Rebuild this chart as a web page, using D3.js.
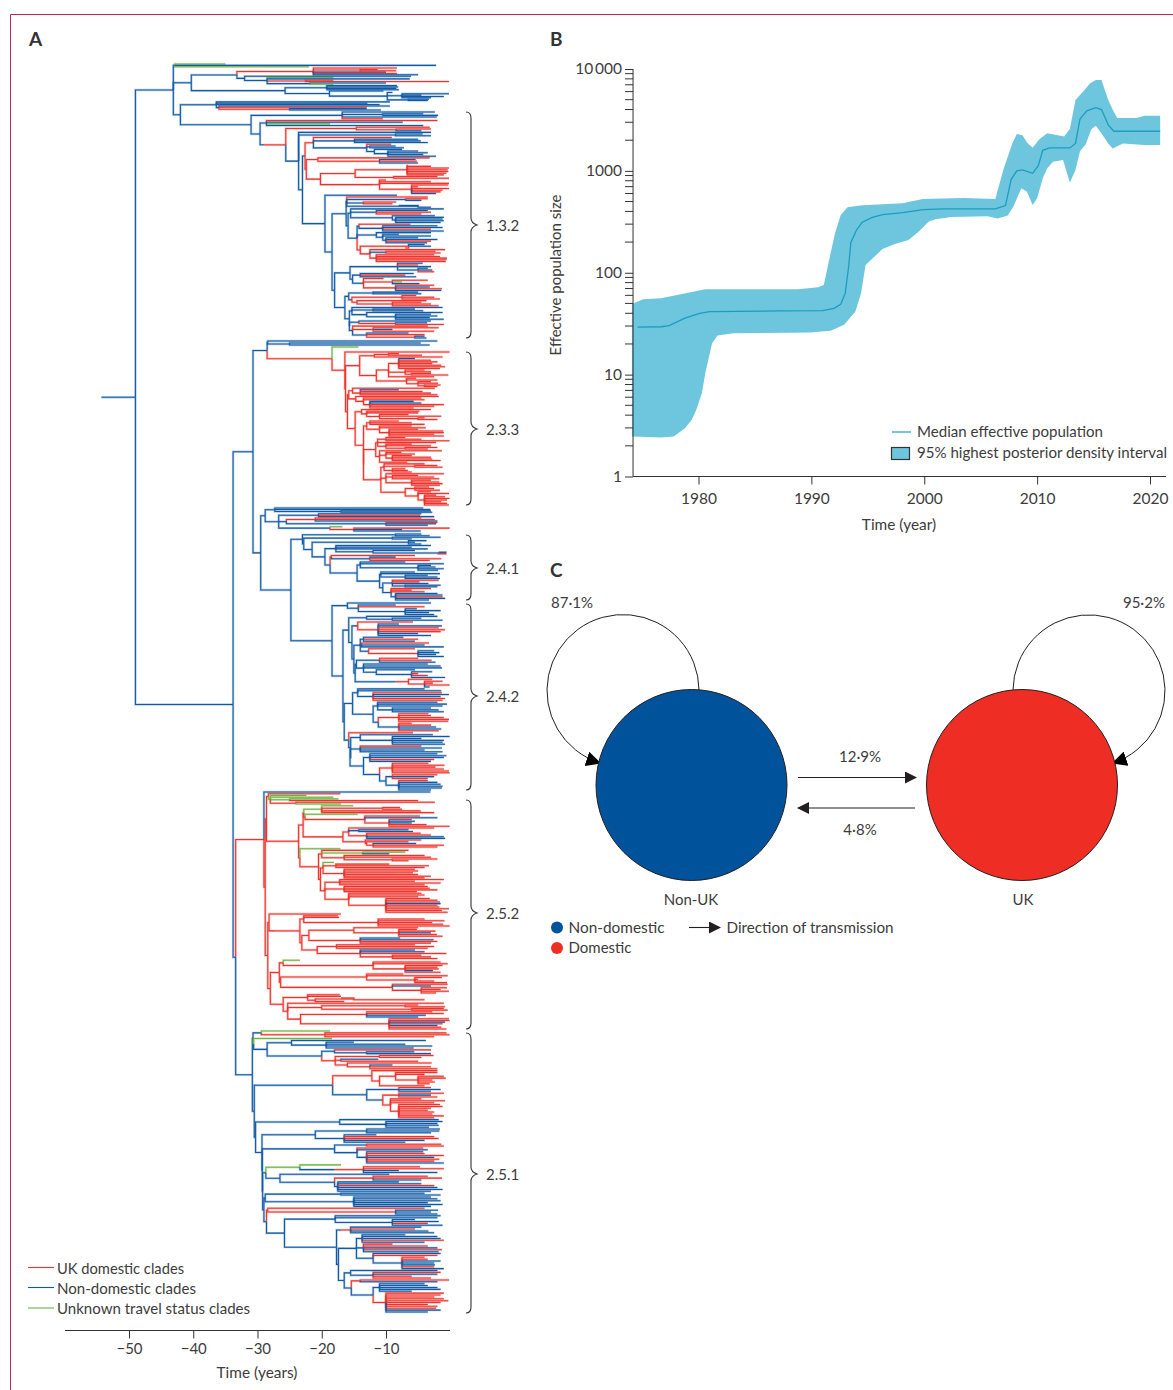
<!DOCTYPE html>
<html>
<head>
<meta charset="utf-8">
<script src="https://cdn.jsdelivr.net/npm/d3@7"></script>
<style>
  html, body { margin: 0; padding: 0; background: #fff; }
  svg { display: block; }
  text { font-family: Lato, "Open Sans", sans-serif; fill: #3d3c3c; }
</style>
</head>
<body>
<div id="chart"></div>
<script>
// Tree data. Format: colour + years before present,
// "[" opens a node, a bare number is a tip, colour is inherited if left out.
// r = UK domestic, b = non-domestic, g = unknown. "|" marks a section break.
const cladeTop = `
b42.9[g35 b2.2 g22]
b40.3[
  b33.2[
    r21.3[r8.3 r14[r11.3 r8.4] b10 r8.3 b5]
    b32[b6.1 b28.5[g18.2 b6.3 r22.5[r18.2 r0.2] b21.8[b10 g18.2]]]
  ]
  b25.7[
    b19.2[b8.3 b8.1 b8.4 b8]
    b18.8[b10.4 b9.8[b9 b7.5[b0.2 b4.5 b1 b3] b6.5[b3.3 b3.5]]]
  ]
]`;

const clade132 = `
b31[
 b16.8[b2.4 b10.5[b4.2 b1.9] b2.1 r10.5]
 b29.6[
  b28.6[r2 b7.4 g18.7 b4.2]
  b29[
   r25.6[
    r14.6[r3.2 r8.4[r3 b4.5]]
    b23.6[
     b3 b8.5[b4.3 b3]
     b23[
      b22.6[
       r21.3[
        r9.1
        b14.9[b5 b4.6 b3.5]
        b13[
         r9.2 b12.5[b8.5 b7.2]
         b11.8[b7.5 b9.7[b5 b3.5 b4.2 b2.2]]
        ]
       ]
       r22.4[
        r20.6[r3.2 r11[b5.4 r5.2 b5]]
        r20.2[
         r14.8[r6.7[r6.7 r3 r0.2 r0.4 r0.3 r0.6 r1] r8.8[r2 r0.2]]
         r12[r11[r10 r3 r0.2 r6[r0.3 r5 r0.2 r1.2 r1.5 b2.2]]]
        ]
       ]
      ]
      b19.5[
       b8.3
       b18.4[
        b16.2[
         b16.1[r3.5 b6.9[r3.5 b4.5] b13.5[r8.4 r9] b5[b8 b3]]
         b15.9[
          b15.5[
           b1 b11.5[b3.5 r3 r4.5] b9[b2.4 b8.5[b1 b1.2 b1 b1.5]]
          ]
          b14.5[
           b14.2[r6.2 b10.5[b2 b1.2 r3 b1]]
           b11.5[b3 b10.5[b8 b3 b10[b5 b2 r3 b3.6]]]
           r14[r6.5[b4 b3 r7] r12.5[r0.8 b10[r2.3 r1.5] r11.5[r2.5 r1.6 r0.5 r0.6 r0.7]]]
          ]
         ]
        ]
        b18[
         b15.6[
          b8.2[b4.3 r5 b3 b5[b3.5 b2.8 r2.5]]
          b15.2[
           b14[b5.7 r7 b5.3]
           b13.5[r10.4 r9[r3.5 g7.5 b4.8] r8.5[r2.5 b3.2 r1.3 b1.4]]
          ]
         ]
         b16.4[
          b15.8[
           b12[b5 b4.5]
           b15.3[
            r7.5[r5.3 r2.5 r1.6]
            r14.5[r3.7 r9[r4.5 r3 r1.8]]
           ]
          ]
          b15.7[
           b15.3[b1.2 b12[b5.5 b4.2] b13[b1.2 b8.5[b3 b2 b3.2 b1]]]
           b15.7[
            b14.2[b3 r8.5[b3.6 r1]]
            b15.2[r3.5 r12[r1.8 b9 r2.5] b13[b6.5 r4 r5.5[b4 b3.7]]]
           ]
          ]
         ]
        ]
       ]
      ]
     ]
    ]
   ]
  ]
 ]
]`;

const cladeLink = `b28.4[b2 b25[b4.6 b3.2]]`;

// the section break sits after the green tip, it lies above the 2.3.3 bracket
const clade233 = `
r18.4[
 g14.3 |
 r16.4[
  r0.1
  r16.3[
   r14.1[
    r11.8[r9.6[r8 r4.4] r1.2]
    r11.5[
     r9.6[r8[b5.5 r3 r2 r2.8 r1.4 r0.8 r1.6] r7[r4 r3 r6[r3 r0.3]] r2.5]
     r9.8[r6.8[r5.3 r2 r5[r3 r1.9 r4[r1.5 r2]]]]
    ]
   ]
   r16[
    r15.8[
     r15.2[r2.4 r14[r14[b8 r4.3 r3] r2]]
     r14.7[r1.8 r13.5[r4.5 r4 r12.5[b5.7 b4.5 r1 r2.5 r5.7]]]
    ]
    r14.8[
     r13.8[r3 r13[r4.8 r5 r11[r6.5 r1.4 r5[r4 r2]]]]
     r13.5[
      r13[r12.5[r8 r6 r4] r11[r6 r3.8 r9.5[r5 r1.1 r1 r2.5 r1]]]
      r13.5[
       r11.6[
        r11.3[r10[r7 r4.5 r0.1] r2.2 r10[r6 r3 r7[r2 r3.5]]]
        r11[r1.3 r10[r7.6 r5.5 r9[r6 r3 r2.8 r1.5]] r6.7]
       ]
       r10.8[
        r10.3[r4 r5.5[r2 r1.2] r9[r7 r6.6 r6]]
        r10[r1 r9[r5 r2.5 r1.7] r6[r3 r1.7 r1.2 r1.6]]
        r7[
         r5.5[r3.3 r2.5 r1.6]
         r5[r3 r0.2 r4[r2.2 r0.8 r0.1 r0.5 r1.4 r0.5 r0.2]]
        ]
       ]
      ]
     ]
    ]
   ]
  ]
 ]
]`;

const cladeBase24 = `
b28.8[
 b27.3[b4.2 b3.1 b17[b3 b2.8]]
 b26.7[
  b20.5[b4.5 r4.7 b2.5]
  b25.5[r21[r4.5 r2.4 b2] b10[r2 b2.2 b3.5]]
  b18.7[g16.8 r15[r0.1 b7.5 b4.6]]
 ]
]`;

const clade241 = `
b23[
 b8.5[b4.5 b3.2]
 b22.8[
  b9[b1.5 b6]
  b21.5[
   b6.5[b3.7 b5.5 b4.5]
   b19.5[
    b17.8[b3 b6 b3.5 b12[b5.5 b0.7[b1.8 r2]]]
    b18.7[
     r18.5[r5.5 b12.5[b8.5 r1.4 r3.2]]
     b14.5[
      b14[b7 b1 b5[b3 b2.3 b1 b1.9]]
      b11[
       b10.8[b5.5 b1.6 b7[b3.5 b2 b1.6]]
       b10.5[
        b9[r1.8 r4.8 b3.4 b7[b1.5 b2]]
        b9.2[r3 r6 r4 b8.5[b2 b1.2 r1.2 b0.8 b3.3]]
       ]
      ]
     ]
    ]
   ]
  ]
 ]
]`;

const clade242 = `
b18.4[
 b16[b3 b15.6[b14.3[b8.5 r4 b7[b5.2 b1.5 b3.3 b2.5]]]]
 b16.7[
  b15.8[
   b13[b2 b9[b4.5 b1.2]]
   b15.3[
    b14.4[r5.8 r11.2[b8 b1.3 r1.8 r0.8 r1.5 b5 b3]]
    b15[
     b14[
      b13.5[b7.3 r5 b5.5]
      b13.8[r3.3 b4 b1]
      b12.7[r5.5 r5[b2.5 b1.7 b2.2 b1]]
     ]
     b14.8[
      b14.6[
       b11[r5 r2.9 b2.3]
       b13.5[b3.5 b1.5 b1.3 b11.5[b5.5 b6[b2.8 r5 r3.5 b0.8]]]
      ]
      b8.5[r6.5[r2.8 r4[r1.2 r2.7 r0.1 b3.2]]]
     ]
    ]
   ]
  ]
  b16.5[
   b15.2[
    b14.4[b4 b1.4 b12[r1.3 b0.2 b1.5 r0.8 r1.2]]
    b12[
     b11.3[b2 b0.5 b1.2 b9[b3 b1.8 b1]]
     b11.2[r8[r3.4 r3 r1 r0.2 r0.3] b8[r6 r3 b2.2 b1.4 r1.8]]
    ]
   ]
   b15.8[
    r5.8
    b15.5[
     b14[b2.7 b9[b0.1 b4.5 b1 b1.2 b0.8]]
     b15.6[
      b14[r4.5 b1.3 b4 b1.2]
      b13.5[
       b12.5[b2 b0.6 b1 r2.5 b3]
       b11[r9[r3.4 r0.9 r2.3 r1 r0.2 r0.1]
        b10[b9[r2 b2.5 r3.5] b8[r3.5 b2 b1.5 b1.2 b1.3 b3]]
       ]
      ]
     ]
    ]
   ]
  ]
 ]
]`;

const clade252 = `
r29[
 b3.1
 r28.8[
  r28.6[
   r28.3[
    r17.1 g28[g22.4 g18.2 g25[g17.4 r5] r24[r2.4 g17]]
   ]
   r23.6[
    r22.9[
     r22.8[g20[g15.1 r10.5[r7.8 r7.5] r4.6 r2.5] r22.6[g14.4 r13.3[r4.7 b2 r9.5[r6 b5.5 b6 r3.7 r0.1]]]]
     r16.7[
      r15.8[r2.5 b14.2[b6.5 b5.8] r13[r4.6 r3 b1 b0.8]]
      r13.2[r4.5 r13[r6.5 r12[b5.3 r1 r2]]]
     ]
    ]
    r23.4[
     g17.1
     r20.5[
      r20[r6.5 g13.6[g7 b9.5] r16.5[r4 r3 r9[r2 r6.5]]]
      r20.2[
       r19.8[g18.1 r17.8[r9.5 r3.3 r4] r16.5[r5.5 r5 r5.8 r5 r3 r4]]
       r19.5[
        r17.2[r1 r5.5 r1.5 r4]
        r16.5[r3.5 r3.2 r2 r5.2]
        r15.8[r4.5 r4 r5 r10[r3.2 r2 r1.6 b1.5 r2 r1.7 r0.2 r1.3 r0.4]]
       ]
      ]
     ]
    ]
   ]
  ]
  r28.4[
   r28.2[
    r17
    r27.3[
     r23.4[
      r22.8[r17.5 r17.3 r11.2[r4 r0.9 r2.8 r1.1 r0.1]]
      r23.1[
       r22[r15[r5 r8[r5.2 r2.3 b3 r2.1 r1.2]] r14[b7.8 b2.6 r2 r3]]
       r20.7[
        r17.7[r5.5 r2.5 r3.5]
        r14[b5.5 b4 r0.6 r9[r4.5 r3 r2]]
       ]
      ]
     ]
    ]
   ]
   r28[
    r26.6[
     r26[g23.4 r12[r1.5 r0.4 r7[r1.2 r2 r1.8 b2.7 r1.5]]]
     r26.4[r13[r7.3 r0.4 r5.5[r1.3 r5 r2.5 r0.5]] r9[r0.4 b3 r4.5[r0.5 r1.5 r0.2 r2.2]]]
    ]
    r27.4[
     r26[
      r22.2[r17.2 r17 r21[r15[r17 r4] r16.5]]
      r25.3[
       r1 r20[r7[r5 r0.8] r6[r1 r0.4]]
       r23.3[
        r13[r2.8 r1 b3.8 b5]
        r9.5[r0.2 r0.1 b0.8 r1.2 b2 r1.4 r0.6]
       ]
      ]
     ]
    ]
   ]
  ]
 ]
]`;

const clade251 = `
b30.8[
 b30.7[
  b29.4[g18.7 r19.5[r0.6 r0.1 r2.5]]
  g30.6[
   g18.4
   b28.5[
    b24.7[b3.8 b19.3[b15 b7 b2.8 b5.7]]
    b20[
     b18[r3 b13[b5.6 b3]]
     r17.9[r11[r2.6 r4.5] r17[b11.2 r5] r16[r2.9 r12.5[b9 r3 r2]]]
    ]
   ]
  ]
 ]
 b30.5[
  b18.3[
   r12.2[
    r2 r11[r8.5[r2 r4 r5[r1 r0.7 r2.8 r2.4 r3.2]] r4]
   ]
   b13[
    b8[r3 b1.5 b3]
    b10.5[
     r8[r1 b3 r2]
     r9.3[r4.5 r0.8 r2.5 r8[r1.6 r1.2 r3 r3.5 r2.5 r2.8 r1 r2.5]]
    ]
   ]
  ]
  b30.3[
   b17.2[b1.8 b10[b1.2 b2 b1.8 b3.3]]
   b29.3[
    b27.6[
     b21[b13[b1.6 b1.7 b3] b16.5[b11.5 r2.5 r1.8 b4 b7]]
    ]
    b29.25[
     b18[b13[r1.4 r1] b14.5[r4.2 b3.5 b13[b4.2 r4 r1 b2.5 r1.7 r2.5 b1]]]
     b29.2[
      b28.7[
       g23.4[g17 b18[r13.5[r4.7 r1 b8 b2]]]
       b26.5[b9.5 b18[r12[r3.5 r1.3 b4.5] b17.5[b8 b4.5 r2.5 b2 b1.2 b3]]]
      ]
      b29[
       b28.8[b17[b4 b1.5] b15[b3 b2 b1.5 b3.5 b1.2 b3]]
       b28.6[
        r28.4[r4 r8.5[b1.9 b3 b2]]
        b25.8[
         b17.9[b1.5 b2 b9[b5.5 b1.8 r3.5 b1.2]]
         b17.7[
          b17[r15.5[b4.5 r5.5 b3.4 b2.5]]
          b17.4[
           b14.6[
            b13.7[b7 b2 b1.5 r1 b4]
            b13.5[r9 r3.5 b2 r1.3 b1.8]
            b12[b1.5 r2 b7.5[r4 r3.5 b1.5 b2.5 b2.4 r2.5 b1]]
           ]
           b16.5[
            b15.5[b2 b12[r1.5 b2 r6 r3]]
            b15.4[
             r14[r0.2 b2]
             b12[b11[b4 b3.5 b2 b1.5 b6] r10[r1 r1.5 r2.5 r1 r0.3 r1.5 r3.5 r2 r2.2 b1.5 b3.5]]
            ]
           ]
          ]
         ]
        ]
       ]
      ]
     ]
    ]
   ]
  ]
 ]
]`;

// whole tree joined from the clades, "|" between sections
const treeText = `b54.3[b49[
  b43.1[${cladeTop}
    b42[b36.4[b9.4 b12.9 b11 b36[b9.4 r13 r25[b13 b10.8]]] | ${clade132}]
  ]
  b33.8[
    b30.7[
      b28.5[ | ${cladeLink} r28.3[${clade233}]]
      b29.5[ | ${cladeBase24}
        b24.8[ | ${clade241} | ${clade242}]
      ]
    ]
    b33.4[ | ${clade252} | ${clade251}]
  ]
]]`;

const treeAxisTicks = [-50, -40, -30, -20, -10];
const cladeNames = ['1.3.2', '2.3.3', '2.4.1', '2.4.2', '2.5.2', '2.5.1'];
const bracketTops = [112, 352, 535, 604, 800, 1033];
const bracketTips = [225, 429, 568, 696, 913, 1174];
const bracketEnds = [338, 505, 600, 790, 1029, 1313];
const treeLegend = ['UK domestic clades', 'Non-domestic clades', 'Unknown travel status clades'];

// Panel B
const medianYears = [1974.6,1976.7,1977.4,1978.8,1980.1,1981,1987.4,1991,1992,1992.6,1993,1993.3,1993.5,1994,1994.5,1995.4,1996.3,1998.1,1999.9,2001.7,2006.3,2007.2,2007.7,2008.2,2008.7,2009.6,2010.1,2010.5,2011.1,2012.9,2013.4,2013.8,2014.4,2015.2,2015.7,2016.3,2016.8,2020.9];
const medianValues = [29.2,29.5,30.3,35.8,40,41.5,42.2,42.5,44.7,49,63,115,198,263,313,350,372,389,417,423,423,456,826,1000,1022,947,1125,1590,1680,1680,1860,3230,3880,4180,4000,2830,2450,2450];
const upperYears = [1974.1,1975.1,1976.7,1978.1,1980.6,1988.8,1990.6,1991.1,1991.7,1992.1,1992.6,1993.2,1994.5,1998.1,1998.8,1999.9,2001.7,2003.5,2006.3,2007,2007.8,2008.2,2008.7,2009.1,2009.6,2010.2,2010.9,2012.4,2012.9,2013.4,2014.2,2014.7,2015.2,2015.7,2016.3,2016.7,2017.1,2018.8,2019.5,2020.9];
const upperValues = [49.4,55,56.2,60.5,69,69,72,76,155,245,369,440,459,480,500,530,537,542,530,1020,1860,2300,2240,1900,1690,2040,2340,2170,2570,4970,6220,7240,7780,7780,4970,3980,3310,3310,3470,3470];
const lowerYears = [1974.1,1976.7,1977.8,1978.8,1979.4,1979.8,1980.3,1980.6,1981.2,1981.7,1983.1,1989.9,1991.7,1992.9,1993.9,1994.4,1994.8,1996.3,1997.4,1998.6,1999.5,2000.4,2001,2002.4,2005.6,2006.5,2007.4,2007.9,2008.6,2009.1,2009.6,2010,2010.5,2010.9,2011.4,2012.3,2012.9,2013.4,2013.8,2014.3,2014.8,2015.2,2015.8,2016.3,2016.7,2017.6,2019.5,2020.9];
const lowerValues = [2.47,2.41,2.47,2.98,3.6,4.5,6.6,10.3,20.3,24.2,25.5,25.9,27,30.8,41.6,63,119,171,192,210,253,318,335,353,358,340,364,446,675,625,463,538,845,1060,1230,1280,767,1020,1567,1820,2560,2780,2250,1860,1660,1860,1795,1795];
const yearTicks = [1980, 1990, 2000, 2010, 2020];
const popLabels = [1, 10, 100, 1000, 10000];
const popMinor = [2,3,4,5,6,7,8,9,20,30,40,50,60,70,80,90,200,300,400,500,600,700,800,900,2000,3000,4000,5000,6000,7000,8000,9000];

// Panel C
const selfRates = ['87·1%', '95·2%'];
const crossRates = ['12·9%', '4·8%'];
const stateNames = ['Non-UK', 'UK'];

const BLUE = '#0f5aa6', RED = '#f0322a', GREEN = '#6cb33f';
const NODE_BLUE = '#00529b', NODE_RED = '#ee2e24', INK = '#231f20';
const colours = { r: RED, b: BLUE, g: GREEN };

const svg = d3.select('#chart').append('svg').attr('width', 1173).attr('height', 1390);

// crimson page rule
svg.append('path').attr('d', 'M1173,14.5H10.5V1390').attr('fill', 'none').attr('stroke', '#c2255c').attr('stroke-width', 1);

function panelLetter(s, x, y) {
  svg.append('text').attr('x', x).attr('y', y).attr('font-size', 19).attr('font-weight', 700).style('fill', '#333').text(s);
}
panelLetter('A', 29, 46);
panelLetter('B', 550, 46);
panelLetter('C', 550, 577);

// text squeezed to the width it has in the picture, the journal font is narrower than Lato
function fitted(s, x, y, width, size) {
  return svg.append('text').attr('x', x).attr('y', y).attr('font-size', size || 16)
    .attr('textLength', width).attr('lengthAdjust', 'spacingAndGlyphs').text(s);
}

// ---------- A: tree ----------
function parseTree(text) {
  const tokens = text.match(/[rbg]?[\d.]+\[?|\]|\|/g);
  const breaks = [];
  let row = 0, top = null;
  const stack = [];
  tokens.forEach(tok => {
    if (tok === ']') { stack.pop(); return; }
    if (tok === '|') { breaks.push(row); return; }
    const open = tok.endsWith('[');
    const body = open ? tok.slice(0, -1) : tok;
    const hasCol = /^[rbg]/.test(body);
    const parent = stack[stack.length - 1];
    const node = {
      t: +(hasCol ? body.slice(1) : body),
      col: hasCol ? body[0] : (parent ? parent.col : 'b')
    };
    if (parent) parent.children.push(node); else top = node;
    if (open) { node.children = []; stack.push(node); }
    else node.row = row++;
  });
  return { top, breaks, rows: row };
}

const parsed = parseTree(treeText);
const timeX = d3.scaleLinear().domain([-50, -10]).range([129, 386]);

// pixel bands of the tree sections, from top to bottom
const sectionBands = [[64, 110], [112, 338], [341, 347], [352, 505], [508, 531], [534, 600], [603, 790], [792, 1029], [1031, 1312]];
const starts = [0, ...parsed.breaks];
const rowDomain = [], rowRange = [];
starts.forEach((s, i) => {
  const e = (i + 1 < starts.length ? starts[i + 1] : parsed.rows) - 1;
  rowDomain.push(s, e);
  rowRange.push(sectionBands[i][0], sectionBands[i][1]);
});
const rowY = d3.scaleLinear().domain(rowDomain).range(rowRange);

const root = d3.hierarchy(parsed.top);
root.eachAfter(d => {
  if (d.children) d.y = (d.children[0].y + d.children[d.children.length - 1].y) / 2;
  else d.y = rowY(d.data.row);
  d.x = timeX(-d.data.t);
});

// pale wider stroke under the lines, the printed tree has this soft edge
const elbow = d => `M${d.source.x},${d.source.y}V${d.target.y}H${d.target.x}`;
svg.append('g').attr('fill', 'none').attr('stroke-width', 2.4).attr('stroke-opacity', 0.3)
  .selectAll('path').data(root.links()).join('path')
  .attr('stroke', d => colours[d.target.data.col]).attr('d', elbow);
svg.append('g').attr('fill', 'none').attr('stroke-width', 1.05)
  .selectAll('path').data(root.links()).join('path')
  .attr('stroke', d => colours[d.target.data.col]).attr('d', elbow);

// clade brackets
const brackets = svg.append('g');
cladeNames.forEach((name, i) => {
  const a = bracketTops[i], m = bracketTips[i], b = bracketEnds[i];
  brackets.append('path')
    .attr('fill', 'none').attr('stroke', '#333').attr('stroke-width', 1.1)
    .attr('d', `M466,${a}Q471,${a} 471,${a + 6}V${m - 7}Q471,${m - 2} 477,${m}Q471,${m + 2} 471,${m + 7}V${b - 6}Q471,${b} 466,${b}`);
  brackets.append('text').attr('x', 486).attr('y', m + 6).attr('font-size', 15).text(name);
});

// tree legend
const legendWidths = [127, 139, 193];
['r', 'b', 'g'].forEach((c, i) => {
  const y = [1267.5, 1287.5, 1308][i];
  svg.append('line').attr('x1', 28).attr('x2', 54).attr('y1', y).attr('y2', y).attr('stroke', colours[c]).attr('stroke-width', 1.1);
  fitted(treeLegend[i], 57, y + 6, legendWidths[i]);
});

// tree axis
const timeAxis = svg.append('g').attr('transform', 'translate(0,1330.5)')
  .call(d3.axisBottom(timeX).tickValues(treeAxisTicks).tickSize(8).tickPadding(5).tickFormat(d => '\u2212' + Math.abs(d)));
timeAxis.select('.domain').attr('d', 'M65,0H450').attr('stroke', '#333');
timeAxis.selectAll('.tick line').attr('stroke', '#333');
timeAxis.selectAll('text').attr('font-size', 15).style('fill', '#3d3c3c');
svg.append('text').attr('x', 257).attr('y', 1378).attr('text-anchor', 'middle').attr('font-size', 15.4).text('Time (years)');

// ---------- B: skyline ----------
const yearX = d3.scaleLinear().domain([1980, 2020]).range([698.5, 1150]);
const popY = d3.scaleLog().domain([1, 10000]).range([476.5, 69]);
const FILL = '#6dc6de', LINE = '#1b9dc0';

const band = upperYears.map((y, i) => [y, upperValues[i]])
  .concat(lowerYears.map((y, i) => [y, lowerValues[i]]).reverse());
const bLine = d3.line().x(d => yearX(d[0])).y(d => popY(d[1]));
svg.append('path').attr('d', bLine(band) + 'Z').attr('fill', FILL);
svg.append('path').attr('d', bLine(medianYears.map((y, i) => [y, medianValues[i]])))
  .attr('fill', 'none').attr('stroke', LINE).attr('stroke-width', 1.3);

const axisLeftX = yearX(1974.2);
const xG = svg.append('g').attr('transform', 'translate(0,476.5)')
  .call(d3.axisBottom(yearX).tickValues(yearTicks).tickSize(8).tickPadding(8).tickFormat(d3.format('d')));
xG.select('.domain').attr('d', `M${axisLeftX},0H1166`).attr('stroke', '#333');
xG.selectAll('.tick line').attr('stroke', '#333');
xG.selectAll('text').attr('font-size', 15.5).style('fill', '#3d3c3c');

const yG = svg.append('g').attr('transform', `translate(${axisLeftX},0)`)
  .call(d3.axisLeft(popY).tickValues(popLabels).tickSize(8).tickPadding(3)
    .tickFormat(d => d === 10000 ? '10\u2009000' : d));
yG.select('.domain').attr('d', 'M0,69V476.5').attr('stroke', '#333');
yG.selectAll('.tick line').attr('stroke', '#333');
yG.selectAll('text').attr('font-size', 15.5).style('fill', '#3d3c3c');
yG.selectAll('line.minor').data(popMinor).join('line').attr('class', 'minor')
  .attr('x1', -8).attr('x2', 0).attr('y1', d => popY(d)).attr('y2', d => popY(d)).attr('stroke', '#333');

svg.append('text').attr('transform', 'translate(561,275) rotate(-90)').attr('text-anchor', 'middle')
  .attr('font-size', 15).text('Effective population size');
svg.append('text').attr('x', 899).attr('y', 530).attr('text-anchor', 'middle').attr('font-size', 15.4).text('Time (year)');

svg.append('line').attr('x1', 892).attr('x2', 911).attr('y1', 432).attr('y2', 432).attr('stroke', LINE).attr('stroke-width', 1.2);
fitted('Median effective population', 917, 437, 186);
svg.append('rect').attr('x', 891.5).attr('y', 447.5).attr('width', 18).attr('height', 12).attr('fill', FILL).attr('stroke', '#333').attr('stroke-width', 1.2);
fitted('95% highest posterior density interval', 917, 458, 250, 15);

// ---------- C: transitions ----------
const defs = svg.append('defs');
defs.append('marker').attr('id', 'head').attr('viewBox', '0 0 12 12').attr('refX', 11).attr('refY', 6)
  .attr('markerWidth', 12).attr('markerHeight', 12).attr('markerUnits', 'userSpaceOnUse').attr('orient', 'auto')
  .append('path').attr('d', 'M0,0L12,6L0,12Z').attr('fill', INK);
defs.append('marker').attr('id', 'headBig').attr('viewBox', '0 0 12 12').attr('refX', 11).attr('refY', 6)
  .attr('markerWidth', 15).attr('markerHeight', 15).attr('markerUnits', 'userSpaceOnUse').attr('orient', 'auto')
  .append('path').attr('d', 'M0,0L12,6L0,12Z').attr('fill', '#000');

svg.append('path').attr('d', 'M699,690A76,76 0 1 0 600,763').attr('fill', 'none').attr('stroke', INK).attr('stroke-width', 1).attr('marker-end', 'url(#headBig)');
svg.append('path').attr('d', 'M1013,690A76,76 0 1 1 1113,763').attr('fill', 'none').attr('stroke', INK).attr('stroke-width', 1).attr('marker-end', 'url(#headBig)');

svg.selectAll('circle.state').data([[691.5, NODE_BLUE], [1022, NODE_RED]]).join('circle').attr('class', 'state')
  .attr('cx', d => d[0]).attr('cy', 785).attr('r', 95.5).attr('fill', d => d[1]).attr('stroke', INK).attr('stroke-width', 1);

svg.append('line').attr('x1', 798).attr('x2', 916).attr('y1', 777.5).attr('y2', 777.5).attr('stroke', INK).attr('stroke-width', 1.1).attr('marker-end', 'url(#head)');
svg.append('line').attr('x1', 915).attr('x2', 798).attr('y1', 808).attr('y2', 808).attr('stroke', INK).attr('stroke-width', 1.1).attr('marker-end', 'url(#head)');

function label(s, x, y, anchor) {
  svg.append('text').attr('x', x).attr('y', y).attr('text-anchor', anchor || 'start').attr('font-size', 15).text(s);
}
label(selfRates[0], 551, 608);
label(selfRates[1], 1165, 608, 'end');
label(crossRates[0], 860, 762, 'middle');
label(crossRates[1], 860, 835, 'middle');
label(stateNames[0], 691, 905, 'middle');
label(stateNames[1], 1023, 905, 'middle');

svg.append('circle').attr('cx', 557).attr('cy', 927.5).attr('r', 6).attr('fill', NODE_BLUE);
svg.append('circle').attr('cx', 557).attr('cy', 948).attr('r', 6).attr('fill', NODE_RED);
fitted('Non-domestic', 568.5, 933, 96);
label('Domestic', 568.5, 953);
svg.append('line').attr('x1', 689).attr('x2', 720).attr('y1', 927.5).attr('y2', 927.5).attr('stroke', INK).attr('stroke-width', 1.1).attr('marker-end', 'url(#head)');
fitted('Direction of transmission', 726.5, 933, 167);
</script>
</body>
</html>
